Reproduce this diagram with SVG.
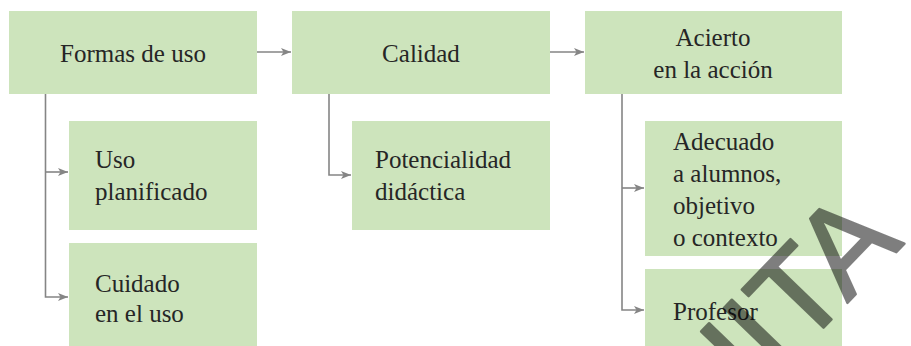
<svg xmlns="http://www.w3.org/2000/svg" width="911" height="346" viewBox="0 0 911 346">
<style>
.box{fill:#cde4bc}
.t{font-family:"Liberation Serif","Times New Roman",serif;font-size:25px;fill:#262626}
.c{text-anchor:middle}
.ln{fill:none;stroke:#858585;stroke-width:1.6}
.wm{font-family:"Liberation Sans",Arial,sans-serif;font-size:124px;fill:#000;stroke:#000;stroke-width:2.5;stroke-linejoin:round}
</style>
<defs>
<marker id="ah" viewBox="0 0 10 10" refX="10" refY="5" markerWidth="10" markerHeight="10" markerUnits="userSpaceOnUse" orient="auto">
<path d="M0,1 L10,5 L0,9 L2.5,5 Z" fill="#858585"/>
</marker>
</defs>
<rect width="911" height="346" fill="#fff"/>
<g id="n-formas"><rect class="box" x="9" y="11" width="248" height="83"/><text class="t c" x="133" y="62">Formas de uso</text></g>
<g id="n-calidad"><rect class="box" x="292" y="11" width="258" height="83"/><text class="t c" x="421" y="62">Calidad</text></g>
<g id="n-acierto"><rect class="box" x="585" y="11" width="257" height="83"/><text class="t c" x="713" y="46">Acierto</text><text class="t c" x="713" y="78">en la acción</text></g>
<g id="n-uso"><rect class="box" x="69" y="121" width="188" height="109"/><text class="t" x="95" y="168">Uso</text><text class="t" x="95" y="200">planificado</text></g>
<g id="n-cuidado"><rect class="box" x="69" y="243" width="188" height="103"/><text class="t" x="95" y="292">Cuidado</text><text class="t" x="95" y="322">en el uso</text></g>
<g id="n-potencialidad"><rect class="box" x="352" y="121" width="198" height="109"/><text class="t" x="375" y="168">Potencialidad</text><text class="t" x="375" y="200">didáctica</text></g>
<g id="n-adecuado"><rect class="box" x="645" y="121" width="197" height="135"/><text class="t" x="673" y="150">Adecuado</text><text class="t" x="673" y="182">a alumnos,</text><text class="t" x="673" y="214">objetivo</text><text class="t" x="673" y="246">o contexto</text></g>
<g id="n-profesor"><rect class="box" x="645" y="269" width="197" height="77"/><text class="t" x="673" y="320">Profesor</text></g>
<g id="connectors">
<path class="ln" d="M257,52 H291" marker-end="url(#ah)"/>
<path class="ln" d="M550,52 H584" marker-end="url(#ah)"/>
<path class="ln" d="M45.5,94 V297 H68"  marker-end="url(#ah)"/>
<path class="ln" d="M45.5,172 H68" marker-end="url(#ah)"/>
<path class="ln" d="M329,94 V175 H351" marker-end="url(#ah)"/>
<path class="ln" d="M622,94 V310 H644" marker-end="url(#ah)"/>
<path class="ln" d="M622,188 H644" marker-end="url(#ah)"/>
</g>
<g id="watermark" opacity="0.5"><text class="wm" transform="translate(715,440) rotate(-46)">UITA</text></g>
</svg>
